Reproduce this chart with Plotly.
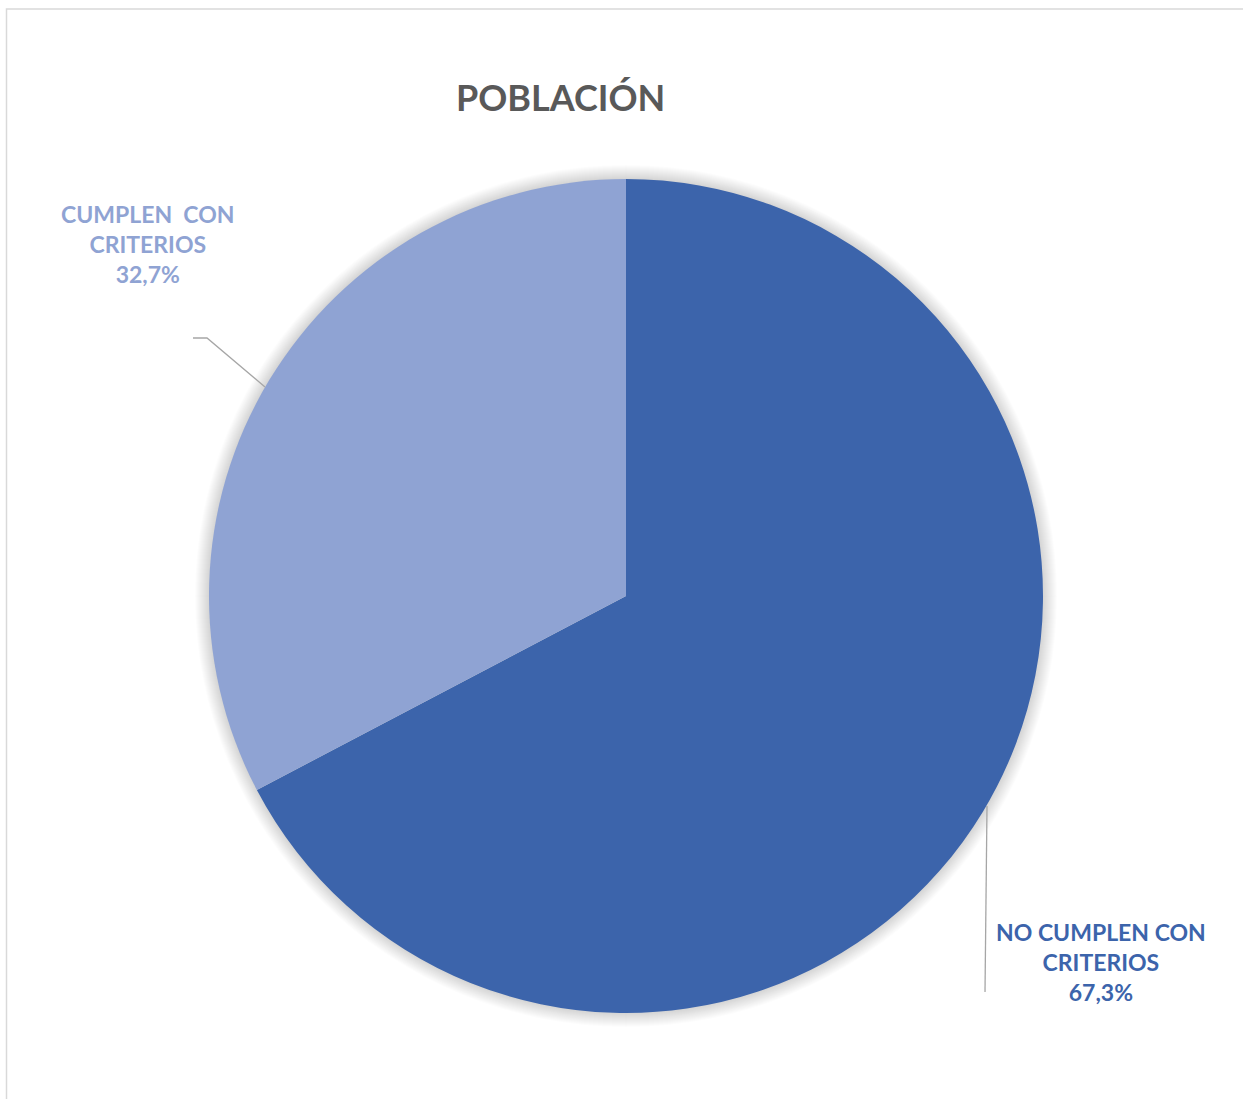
import plotly.graph_objects as go

# Population split by eligibility criteria
categories = ["NO CUMPLEN CON CRITERIOS", "CUMPLEN  CON CRITERIOS"]
values = [67.3, 32.7]
label_lines = [["NO CUMPLEN CON", "CRITERIOS"], ["CUMPLEN  CON", "CRITERIOS"]]
colors = ["#3C64AB", "#8FA3D3"]

W, H = 1243, 1099
FONT = "Lato"

# pie placement in pixels (centre and radius)
cx, cy, r = 626, 596, 417


def px_x(x):
    return x / W


def px_y(y):
    return 1 - y / H


fig = go.Figure()
fig.add_trace(go.Pie(
    labels=categories,
    values=values,
    sort=False,
    direction="clockwise",
    rotation=0,
    marker=dict(colors=colors, line=dict(width=0)),
    textinfo="none",
    hoverinfo="label+percent",
    showlegend=False,
    domain=dict(x=[px_x(cx - r), px_x(cx + r)], y=[px_y(cy + r), px_y(cy - r)]),
))

shapes = []
# soft glow behind the pie, built from stacked translucent discs
for k in range(14, 0, -1):
    shapes.append(dict(
        type="circle", xref="paper", yref="paper", layer="below",
        x0=px_x(cx - r - k), x1=px_x(cx + r + k),
        y0=px_y(cy + r + k), y1=px_y(cy - r - k),
        fillcolor="rgba(0,0,0,0.012)", line=dict(width=0),
    ))

# chart frame
shapes.append(dict(
    type="rect", xref="paper", yref="paper",
    x0=px_x(6.5), x1=px_x(W + 5), y0=px_y(H + 5), y1=px_y(9),
    line=dict(color="#D9D9D9", width=1.5), fillcolor="rgba(0,0,0,0)",
))

# leader lines
shapes.append(dict(
    type="path", xref="paper", yref="paper",
    path=f"M {px_x(193)} {px_y(338)} L {px_x(207)} {px_y(338)} L {px_x(265)} {px_y(387)}",
    line=dict(color="#A6A6A6", width=1.3),
))
shapes.append(dict(
    type="line", xref="paper", yref="paper",
    x0=px_x(987), x1=px_x(985), y0=px_y(806), y1=px_y(992),
    line=dict(color="#A6A6A6", width=1.3),
))

annotations = [
    dict(text="<b>POBLACIÓN</b>", x=px_x(560), y=px_y(97), xref="paper", yref="paper",
         showarrow=False, xanchor="center", yanchor="middle",
         font=dict(family=FONT, size=36, color="#595959")),
]

label_pos = [(1101, 962), (148, 244)]
for lines, val, col, (lx, ly) in zip(label_lines, values, colors, label_pos):
    txt = "<br>".join(f"<b>{s}</b>" for s in lines) + "<br><b>" + f"{val:.1f}".replace(".", ",") + "%</b>"
    annotations.append(dict(
        text=txt, x=px_x(lx), y=px_y(ly), xref="paper", yref="paper",
        showarrow=False, xanchor="center", yanchor="middle", align="center",
        font=dict(family=FONT, size=23, color=col),
    ))

fig.update_layout(
    width=W, height=H,
    margin=dict(l=0, r=0, t=0, b=0),
    paper_bgcolor="white",
    plot_bgcolor="white",
    shapes=shapes,
    annotations=annotations,
)

fig.write_html("out.html")
